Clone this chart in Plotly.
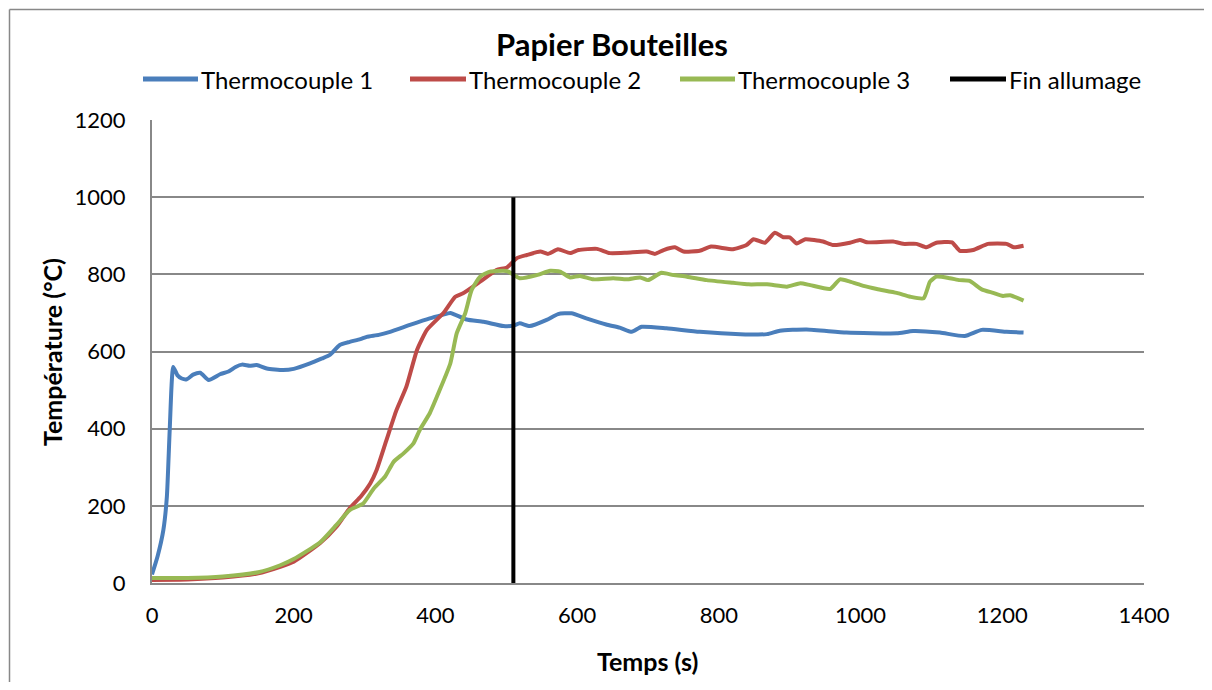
import plotly.graph_objects as go

# ---- data ----
t1 = [0, 8, 16, 21, 25, 30, 36, 42, 49, 58, 68, 80, 96, 108, 118, 127, 138, 148, 162, 185, 200, 223, 240, 251, 265, 279, 294, 303, 320, 336, 364, 392, 410, 421, 444, 468, 496, 510, 519, 533, 557, 573, 592, 613, 641, 660, 677, 691, 726, 773, 830, 868, 886, 924, 980, 1051, 1074, 1112, 1147, 1171, 1206, 1230]
v1 = [22, 70, 137, 224, 397, 560, 538, 530, 528, 540, 545, 526, 541, 548, 560, 566, 563, 565, 556, 552, 555, 569, 582, 591, 617, 625, 632, 638, 643, 651, 669, 686, 695, 700, 683, 677, 666, 667, 673, 666, 682, 697, 699, 686, 670, 662, 651, 664, 660, 651, 645, 645, 654, 657, 649, 647, 653, 649, 640, 656, 651, 649]

t2 = [0, 50, 100, 150, 181, 200, 237, 260, 279, 295, 308, 317, 331, 345, 359, 374, 388, 411, 428, 439, 463, 486, 501, 515, 529, 548, 559, 573, 590, 602, 628, 646, 670, 698, 710, 722, 738, 750, 773, 789, 820, 839, 849, 865, 879, 891, 900, 910, 922, 947, 961, 985, 999, 1009, 1046, 1060, 1079, 1093, 1107, 1129, 1140, 1159, 1180, 1206, 1216, 1230]
v2 = [8, 9, 14, 25, 42, 55, 103, 145, 194, 225, 258, 293, 371, 448, 509, 604, 656, 699, 742, 751, 781, 811, 818, 842, 850, 859, 853, 865, 855, 863, 866, 855, 856, 859, 853, 863, 870, 859, 861, 872, 865, 876, 891, 882, 908, 896, 896, 880, 891, 885, 876, 882, 889, 883, 885, 879, 879, 870, 882, 883, 861, 863, 879, 879, 870, 874]

t3 = [0, 50, 100, 150, 181, 200, 237, 260, 279, 298, 313, 329, 341, 355, 369, 378, 392, 406, 421, 430, 442, 451, 463, 477, 496, 503, 519, 543, 562, 576, 590, 604, 623, 651, 670, 689, 700, 719, 736, 755, 783, 820, 842, 868, 896, 915, 929, 957, 971, 985, 1004, 1023, 1051, 1070, 1089, 1098, 1107, 1126, 1140, 1154, 1171, 1187, 1201, 1211, 1230]
v3 = [13, 13, 17, 28, 46, 62, 105, 150, 189, 206, 245, 276, 314, 336, 362, 397, 440, 500, 569, 647, 699, 759, 794, 807, 809, 807, 790, 798, 809, 807, 792, 796, 787, 790, 787, 792, 785, 804, 798, 794, 785, 778, 774, 774, 768, 777, 772, 762, 787, 781, 770, 762, 752, 742, 738, 781, 794, 790, 785, 783, 761, 752, 744, 746, 732]

fin_t = [510, 510]
fin_v = [0, 1000]

x_ticks = [0, 200, 400, 600, 800, 1000, 1200, 1400]
y_ticks = [0, 200, 400, 600, 800, 1000, 1200]

names = ["Thermocouple 1", "Thermocouple 2", "Thermocouple 3", "Fin allumage"]
colors = ["#4a7ebb", "#be4b48", "#98b954", "#000000"]

FONT = "Lato"

# plot area in screen px (page adds an 8px body margin on every side)
PL, PR, PT, PB = 152, 1144, 120, 583
PW, PH = PR - PL, PB - PT
OFF = 8
W, H = 1212 - 2 * OFF, 690 - 2 * OFF


def px(x):
    return (x - PL) / PW


def py(y):
    return (PB - y) / PH


fig = go.Figure()
for t, v, n, c in [(t1, v1, names[0], colors[0]), (t2, v2, names[1], colors[1]), (t3, v3, names[2], colors[2])]:
    fig.add_trace(go.Scatter(x=t, y=v, name=n, mode="lines",
                             line=dict(color=c, width=4, shape="spline", smoothing=0.5)))
fig.add_trace(go.Scatter(x=fin_t, y=fin_v, name=names[3], mode="lines",
                         line=dict(color=colors[3], width=4)))

fig.update_layout(
    width=W, height=H,
    margin=dict(l=PL - OFF, r=W + OFF - PR, t=PT - OFF, b=H + OFF - PB),
    paper_bgcolor="white", plot_bgcolor="white",
    font=dict(family=FONT, color="black", size=22),
    showlegend=False,
    xaxis=dict(range=[0, 1400], tickvals=x_ticks,
               showgrid=False, zeroline=False, showline=True, linecolor="#888888", linewidth=2,
               ticks="", tickfont=dict(size=22), ticklabelstandoff=12),
    yaxis=dict(range=[0, 1200], tickvals=y_ticks,
               showgrid=True, gridcolor="#888888", gridwidth=1.5, zeroline=False,
               showline=True, linecolor="#888888", linewidth=2, ticks="", tickfont=dict(size=22),
               ticklabelstandoff=20),
)

annotations = [
    dict(text="<b>Papier Bouteilles</b>", x=px(612), y=py(44), font=dict(size=31),
         xanchor="center", yanchor="middle"),
    dict(text="<b>Temps (s)</b>", x=px(647), y=py(661), font=dict(size=25),
         xanchor="center", yanchor="middle"),
    dict(text="<b>Température (°C)</b>", x=px(52), y=py(352), font=dict(size=25), textangle=-90,
         xanchor="center", yanchor="middle"),
]

# legend drawn by hand (Excel-style long line samples)
leg_lines = [(143, 198), (410, 466), (680, 735), (950, 1006)]
leg_y = 79
shapes = []
for (a, b), n, c in zip(leg_lines, names, colors):
    shapes.append(dict(type="line", xref="paper", yref="paper", x0=px(a), x1=px(b),
                       y0=py(leg_y), y1=py(leg_y), line=dict(color=c, width=5)))
    annotations.append(dict(text=n, x=px(b + 2), y=py(leg_y), font=dict(size=24),
                            xanchor="left", yanchor="middle"))

# outer chart frame: only the left and top edges are visible in the view
frame = dict(type="line", xref="paper", yref="paper", line=dict(color="#888888", width=1.5))
shapes.append(dict(frame, x0=px(9.5), x1=px(9.5), y0=py(9.5), y1=py(700)))
shapes.append(dict(frame, x0=px(9.5), x1=px(1230), y0=py(9.5), y1=py(9.5)))

for a in annotations:
    a.update(xref="paper", yref="paper", showarrow=False, borderpad=0)

fig.update_layout(annotations=annotations, shapes=shapes)

fig.write_html("out.html")
